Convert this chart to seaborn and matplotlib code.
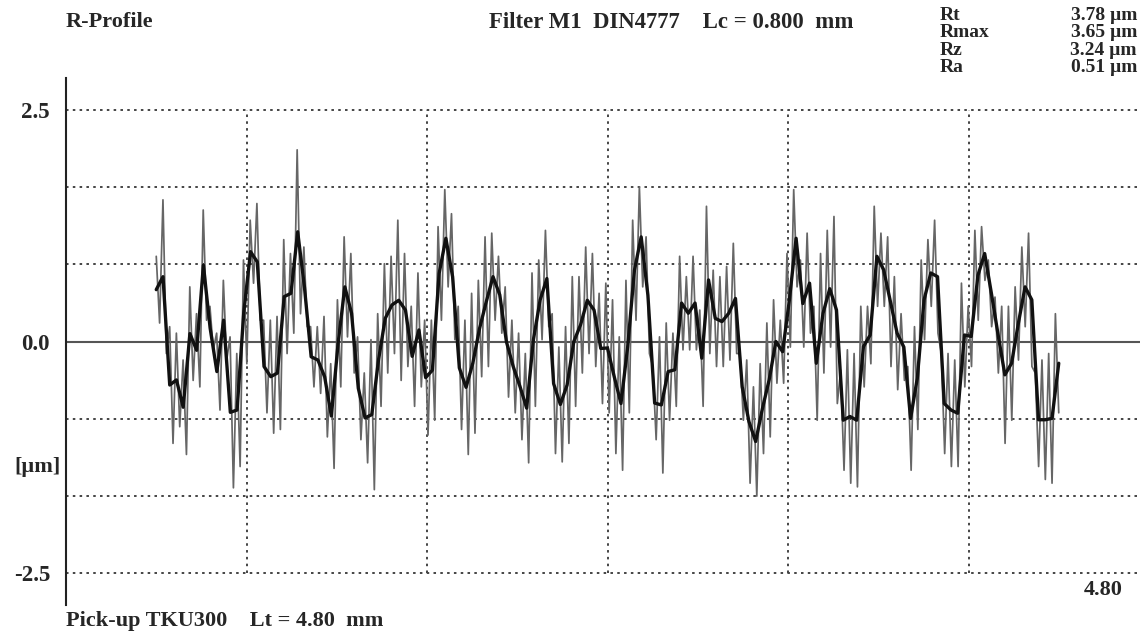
import numpy as np
import pandas as pd
import matplotlib
matplotlib.use("Agg")
import matplotlib.pyplot as plt
import seaborn as sns

# ---- data (µm), per ~0.03 mm slice: local max / local min ----
profile_hi = [0.92, 1.53, 0.16, 0.09, -0.20, 0.59, 0.30, 1.42, 0.38, 0.09, 0.66, 0.05, -0.13, 0.88, 1.31,
              1.49, 0.23, 0.23, 0.27, 1.10, 0.95, 2.07, 1.02, 0.16, 0.16, 0.27, -0.24, 0.45, 1.13, 0.95,
              0.05, -0.34, 0.02, 0.30, 0.84, 0.92, 1.31, 0.95, 0.38, 0.74, 0.23, 0.23, 1.24, 1.64, 1.38,
              0.38, 0.23, 0.52, 0.66, 1.13, 1.17, 0.92, 0.59, 0.23, 0.09, -0.13, 0.74, 0.88, 1.20, 0.30,
              -0.06, 0.16, 0.70, 0.70, 1.02, 0.95, 0.52, 0.63, 0.45, 0.05, 0.66, 1.31, 1.67, 1.13, -0.27,
              0.05, 0.20, 0.09, 0.92, 0.70, 0.92, 0.34, 1.46, 0.77, 0.70, 0.81, 1.06, -0.13, -0.20, -0.49,
              -0.24, 0.20, 0.45, 0.23, 0.95, 1.64, 0.88, 1.17, 0.38, 0.95, 1.20, 1.35, -0.31, -0.09, -0.13,
              0.38, 0.38, 1.46, 1.17, 1.13, 0.70, 0.30, -0.27, 0.16, 0.88, 1.10, 1.31, -0.13, -0.13, -0.20,
              0.63, 0.38, 1.20, 1.24, 0.88, 0.48, 0.38, 0.38, 0.59, 1.02, 1.17, -0.34, -0.20, -0.13, 0.30]
profile_lo = [0.20, -0.13, -1.10, -0.92, -1.22, -0.42, -0.49, 0.23, -0.09, -0.74, -0.20, -1.58, -1.35, -0.24, 0.63,
              0.23, -0.77, -0.99, -0.95, -0.13, 0.09, 0.30, 0.16, -0.49, -0.56, -1.03, -1.37, -0.49, 0.05, -0.34,
              -1.06, -1.31, -1.60, -0.70, -0.34, -0.13, -0.42, -0.27, -0.70, -0.49, -1.01, -0.85, 0.23, 0.59, 0.02,
              -0.95, -1.22, -0.99, -0.38, -0.27, 0.23, 0.09, -0.60, -0.77, -1.06, -1.31, -0.70, 0.02, 0.16, -1.21,
              -1.30, -1.10, -0.70, -0.34, -0.13, -0.27, -0.67, -0.77, -1.21, -1.39, -0.77, 0.23, 0.59, -0.13, -1.06,
              -1.42, -0.85, -0.70, -0.09, -0.09, -0.09, -0.70, -0.13, -0.27, -0.27, -0.20, -0.13, -0.85, -1.53, -1.67,
              -1.21, -1.03, -0.45, -0.45, -0.06, 0.59, -0.06, 0.09, -0.85, -0.34, -0.06, -0.67, -1.39, -1.53, -1.57,
              -0.49, -0.24, 0.38, 0.38, -0.27, -0.52, -0.42, -1.39, -0.95, 0.02, 0.38, 0.09, -1.21, -1.35, -1.35,
              -0.49, -0.27, 0.23, 0.66, 0.16, -0.34, -1.10, -0.85, -0.20, 0.16, -0.27, -1.35, -1.49, -1.53, -0.77]
x_start_mm, x_end_mm = 0.40, 4.40        # evaluated length (Lt minus lc/2 at each end)
y_ticks = [-2.5, 0.0, 2.5]
y_tick_labels = ["-2.5", "0.0", "2.5"]
grid_y = [-2.5, -5/3, -5/6, 5/6, 5/3, 2.5]
grid_x = [0.8, 1.6, 2.4, 3.2, 4.0]
stats_names = ["Rt", "Rmax", "Rz", "Ra"]
stats_values = ["3.78 µm", "3.65 µm", "3.24 µm", "0.51 µm"]

# interleave max/min into one trace
hi = np.asarray(profile_hi)
lo = np.asarray(profile_lo)
y = np.empty(2 * len(hi))
y[0::2] = hi
y[1::2] = lo
x = np.linspace(x_start_mm, x_end_mm, len(y))
df = pd.DataFrame({"x": x, "z": y})
# dark core: middle of each slice
xm = np.linspace(x_start_mm, x_end_mm, len(hi))
core = pd.DataFrame({"x": xm, "z": (hi + lo) / 2})

sns.set_style("white")
plt.rcParams["font.family"] = ["Liberation Serif", "DejaVu Serif"]
plt.rcParams["font.weight"] = "bold"

W, H = 1140, 631
fig = plt.figure(figsize=(W / 100, H / 100), dpi=100)
ax = fig.add_axes([66 / W, (H - 605) / H, (W - 66) / W, (605 - 78) / H])

ax.set_xlim(0, (W - 66) / 180.5 * 0.8)
ax.set_ylim(-2.846, 2.846)

dot = (0, (1.3, 2.2))
for gy in grid_y:
    ax.axhline(gy, color="#444444", lw=1.4, ls=dot, zorder=1)
ax.vlines(grid_x, -2.5, 2.5, color="#444444", lw=1.4, linestyles=[dot], zorder=1)
ax.axhline(0, color="#555555", lw=1.5, zorder=1)

sns.lineplot(data=df, x="x", y="z", estimator=None, sort=False, color="#666666", lw=1.25, ax=ax, zorder=3)
sns.lineplot(data=core, x="x", y="z", estimator=None, sort=False, color="#111111", lw=2.4, ax=ax, zorder=4)

for s in ["top", "right", "bottom"]:
    ax.spines[s].set_visible(False)
ax.spines["left"].set_color("#222222")
ax.spines["left"].set_linewidth(1.5)
ax.set_xticks([])
ax.set_yticks(y_ticks)
ax.set_yticklabels(y_tick_labels, fontsize=16.5, fontweight="bold")
ax.tick_params(axis="y", direction="inout", length=7, width=1.2, pad=8, color="#222222")
ax.set_xlabel("")
ax.set_ylabel("")

fs = 16
fig.text(66 / W, 1 - 22 / H, "R-Profile", fontsize=fs, fontweight="bold", va="center", ha="left")
fig.text(489 / W, 1 - 22 / H, "Filter M1  DIN4777    Lc = 0.800  mm", fontsize=16.4, fontweight="bold",
         va="center", ha="left")
# statistics block: one text per column so the rows sit tightly like the original
fig.text(940 / W, 1 - 7 / H, "\n".join(stats_names), fontsize=14, fontweight="bold",
         va="top", ha="left", linespacing=1.02)
fig.text(1137 / W, 1 - 7 / H, "\n".join(stats_values), fontsize=14, fontweight="bold",
         va="top", ha="right", linespacing=1.02, multialignment="right")
fig.text(38 / W, 1 - 467 / H, "[µm]", fontsize=fs, fontweight="bold", va="center", ha="center")
fig.text(66 / W, 1 - 621 / H, "Pick-up TKU300    Lt = 4.80  mm", fontsize=fs, fontweight="bold",
         va="center", ha="left")
fig.text(1123 / W, 1 - 590 / H, "4.80", fontsize=fs, fontweight="bold", va="center", ha="right")

fig.savefig("out.png", dpi=100, facecolor="white")
